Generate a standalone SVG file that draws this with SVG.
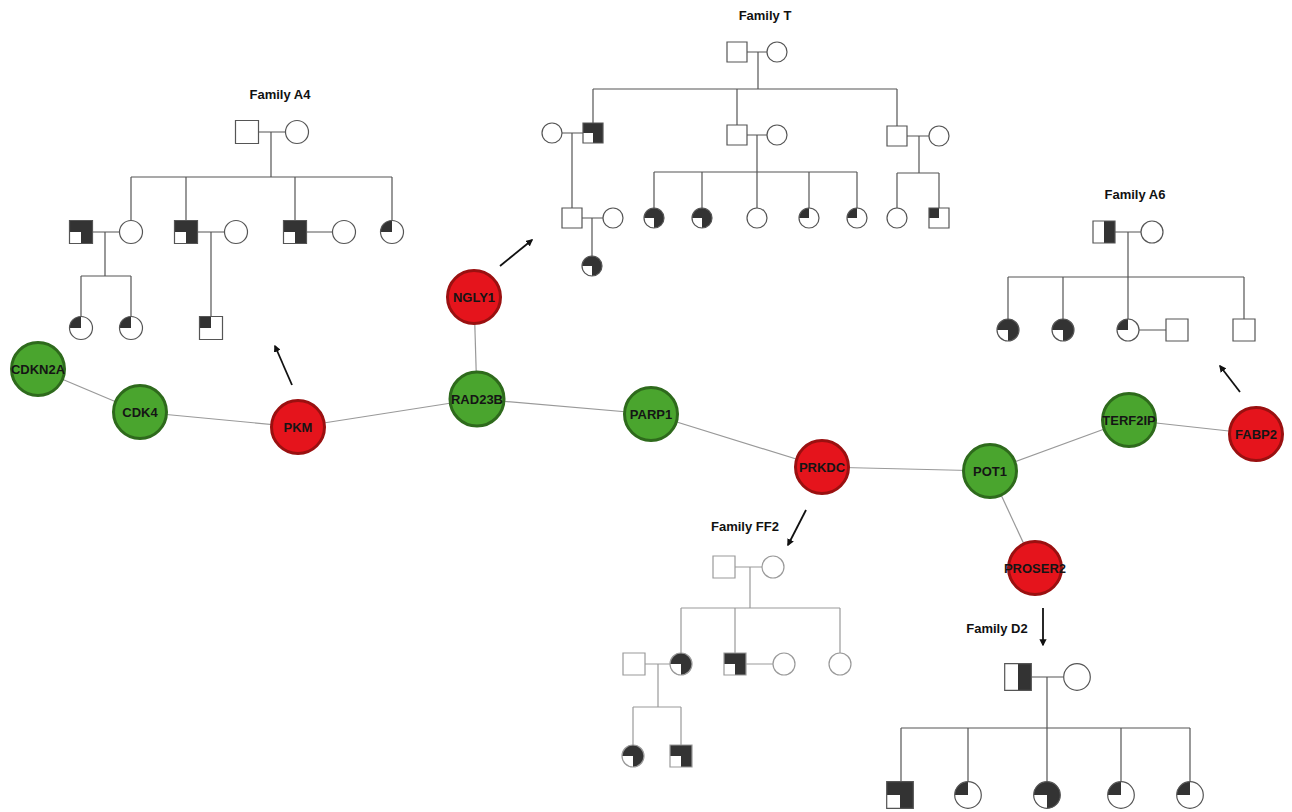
<svg xmlns="http://www.w3.org/2000/svg" xmlns:xlink="http://www.w3.org/1999/xlink" width="1292" height="812" viewBox="0 0 1292 812">
<style>
.o{fill:#fff;vector-effect:non-scaling-stroke}
.d{fill:#333;stroke:none}
.w{fill:#fff;stroke:none}
.pl{fill:none}
.fam{stroke:#555;stroke-width:1.2}
.famL{stroke:#9a9a9a;stroke-width:1.2}
.title{font-family:"Liberation Sans",Arial,sans-serif;font-weight:bold;font-size:13px;fill:#111;text-anchor:middle;stroke:none}
.edge{stroke:#999;stroke-width:1.2;fill:none}
.arr{stroke:#111;stroke-width:1.8;fill:none}
.ng circle{fill:#4aa52e;stroke:#2e6a1c;stroke-width:3}
.nr circle{fill:#e5141c;stroke:#9a1010;stroke-width:3}
.lbl{font-family:"Liberation Sans",Arial,sans-serif;font-weight:bold;font-size:13px;fill:#151515;text-anchor:middle;dominant-baseline:central}
</style>
<defs>
<marker id="ah" viewBox="0 0 10 10" refX="8" refY="5" markerWidth="4" markerHeight="4" orient="auto"><path d="M0 0L10 5L0 10Z" fill="#111"/></marker>
<g id="c0"><circle r="10" class="o"/></g>
<g id="c1"><circle r="10" class="w"/><path d="M0 0H-10A10 10 0 0 1 0 -10Z" class="d"/><circle r="10" class="o" style="fill:none"/></g>
<g id="c3"><circle r="10" class="d"/><path d="M0 0H-10A10 10 0 0 0 0 10Z" class="w"/><circle r="10" class="o" style="fill:none"/></g>
<g id="s0"><rect x="-10" y="-10" width="20" height="20" class="o"/></g>
<g id="s1"><rect x="-10" y="-10" width="20" height="20" class="w"/><rect x="-10" y="-10" width="10" height="10" class="d"/><rect x="-10" y="-10" width="20" height="20" class="o" style="fill:none"/></g>
<g id="s3"><rect x="-10" y="-10" width="20" height="20" class="d"/><rect x="-10" y="0" width="10" height="10" class="w"/><rect x="-10" y="-10" width="20" height="20" class="o" style="fill:none"/></g>
<g id="sh"><rect x="-10" y="-10" width="20" height="20" class="w"/><rect x="0" y="-10" width="10" height="20" class="d"/><rect x="-10" y="-10" width="20" height="20" class="o" style="fill:none"/></g>
</defs>
<rect width="1292" height="812" fill="#fff"/>

<g id="connectors">
<line class="edge" x1="38" y1="369" x2="140" y2="412"/>
<line class="edge" x1="140" y1="412" x2="298" y2="427"/>
<line class="edge" x1="298" y1="427" x2="477" y2="399"/>
<line class="edge" x1="474" y1="297" x2="477" y2="399"/>
<line class="edge" x1="477" y1="399" x2="651" y2="414"/>
<line class="edge" x1="651" y1="414" x2="822" y2="467"/>
<line class="edge" x1="822" y1="467" x2="990" y2="471"/>
<line class="edge" x1="990" y1="471" x2="1129" y2="420"/>
<line class="edge" x1="1129" y1="420" x2="1256" y2="434"/>
<line class="edge" x1="990" y1="471" x2="1035" y2="568"/>
<line class="arr" x1="292" y1="385" x2="275" y2="346" marker-end="url(#ah)"/>
<line class="arr" x1="500" y1="266" x2="532" y2="240" marker-end="url(#ah)"/>
<line class="arr" x1="1240" y1="392" x2="1220" y2="366" marker-end="url(#ah)"/>
<line class="arr" x1="806" y1="510" x2="788" y2="545" marker-end="url(#ah)"/>
<line class="arr" x1="1043" y1="608" x2="1043" y2="645" marker-end="url(#ah)"/>
</g>

<g id="node-CDKN2A" class="ng"><circle cx="38" cy="369" r="26.5"/><text class="lbl" x="38" y="369">CDKN2A</text></g>
<g id="node-CDK4" class="ng"><circle cx="140" cy="412" r="26.5"/><text class="lbl" x="140" y="412">CDK4</text></g>
<g id="node-PKM" class="nr"><circle cx="298" cy="427" r="26.5"/><text class="lbl" x="298" y="427">PKM</text></g>
<g id="node-NGLY1" class="nr"><circle cx="474" cy="297" r="26.5"/><text class="lbl" x="474" y="297">NGLY1</text></g>
<g id="node-RAD23B" class="ng"><circle cx="477" cy="399" r="27"/><text class="lbl" x="477" y="399">RAD23B</text></g>
<g id="node-PARP1" class="ng"><circle cx="651" cy="414" r="26.5"/><text class="lbl" x="651" y="414">PARP1</text></g>
<g id="node-PRKDC" class="nr"><circle cx="822" cy="467" r="26.5"/><text class="lbl" x="822" y="467">PRKDC</text></g>
<g id="node-POT1" class="ng"><circle cx="990" cy="471" r="26.5"/><text class="lbl" x="990" y="471">POT1</text></g>
<g id="node-TERF2IP" class="ng"><circle cx="1129" cy="420" r="26.5"/><text class="lbl" x="1129" y="420">TERF2IP</text></g>
<g id="node-FABP2" class="nr"><circle cx="1256" cy="434" r="26.5"/><text class="lbl" x="1256" y="434">FABP2</text></g>
<g id="node-PROSER2" class="nr"><circle cx="1035" cy="568" r="26.5"/><text class="lbl" x="1035" y="568">PROSER2</text></g>

<g id="family-A4" class="fam">
<text class="title" x="280" y="99">Family A4</text>
<path class="pl" d="M258.5 132H285.5M271 132V177M131 177H392M131 177V220.5M186 177V220.5M295 177V220.5M392 177V220.5M92.5 232H119.5M105 232V276M81 276H131M81 276V316.5M131 276V316.5M197.5 232H224.5M211 232V316.5M306.5 232H332.5"/>
<use href="#s0" transform="translate(247 132) scale(1.15)"/>
<use href="#c0" transform="translate(297 132) scale(1.15)"/>
<use href="#s3" transform="translate(81 232) scale(1.15)"/>
<use href="#c0" transform="translate(131 232) scale(1.15)"/>
<use href="#s3" transform="translate(186 232) scale(1.15)"/>
<use href="#c0" transform="translate(236 232) scale(1.15)"/>
<use href="#s3" transform="translate(295 232) scale(1.15)"/>
<use href="#c0" transform="translate(344 232) scale(1.15)"/>
<use href="#c1" transform="translate(392 232) scale(1.15)"/>
<use href="#c1" transform="translate(81 328) scale(1.15)"/>
<use href="#c1" transform="translate(131 328) scale(1.15)"/>
<use href="#s1" transform="translate(211 328) scale(1.15)"/>
</g>

<g id="family-T" class="fam">
<text class="title" x="765" y="20">Family T</text>
<path class="pl" d="M747 52H767M758 52V89M593 89H897M593 89V123M737 89V125M897 89V126M562 133H583M572 133V208M582 218H603M592 218V256M747 135H767M757 135V208M654 172H857M654 172V208M702 172V208M809 172V208M857 172V208M907 136H929M919 136V173M897 173H939M897 173V208M939 173V208"/>
<use href="#s0" transform="translate(737 52)"/>
<use href="#c0" transform="translate(777 52)"/>
<use href="#s3" transform="translate(593 133)"/>
<use href="#c0" transform="translate(552 133)"/>
<use href="#s0" transform="translate(572 218)"/>
<use href="#c0" transform="translate(613 218)"/>
<use href="#c3" transform="translate(592 266)"/>
<use href="#s0" transform="translate(737 135)"/>
<use href="#c0" transform="translate(777 135)"/>
<use href="#c3" transform="translate(654 218)"/>
<use href="#c3" transform="translate(702 218)"/>
<use href="#c0" transform="translate(757 218)"/>
<use href="#c1" transform="translate(809 218)"/>
<use href="#c1" transform="translate(857 218)"/>
<use href="#s0" transform="translate(897 136)"/>
<use href="#c0" transform="translate(939 136)"/>
<use href="#c0" transform="translate(897 218)"/>
<use href="#s1" transform="translate(939 218)"/>
</g>

<g id="family-A6" class="fam">
<text class="title" x="1135" y="199">Family A6</text>
<path class="pl" d="M1115 232H1141M1128 232V319M1008 277H1244M1008 277V319M1063 277V319M1244 277V319M1139 330H1166"/>
<use href="#sh" transform="translate(1104 232) scale(1.1)"/>
<use href="#c0" transform="translate(1152 232) scale(1.1)"/>
<use href="#c3" transform="translate(1008 330) scale(1.1)"/>
<use href="#c3" transform="translate(1063 330) scale(1.1)"/>
<use href="#c1" transform="translate(1128 330) scale(1.1)"/>
<use href="#s0" transform="translate(1177 330) scale(1.1)"/>
<use href="#s0" transform="translate(1244 330) scale(1.1)"/>
</g>

<g id="family-FF2" class="famL">
<text class="title" x="745" y="531">Family FF2</text>
<path class="pl" d="M735 567H762M750 567V608M681 608H840M681 608V653M735 608V653M840 608V653M645 664H670M658 664V707M633 707H681M633 707V745M681 707V745M746 664H773"/>
<use href="#s0" transform="translate(724 567) scale(1.1)"/>
<use href="#c0" transform="translate(773 567) scale(1.1)"/>
<use href="#s0" transform="translate(634 664) scale(1.1)"/>
<use href="#c3" transform="translate(681 664) scale(1.1)"/>
<use href="#s3" transform="translate(735 664) scale(1.1)"/>
<use href="#c0" transform="translate(784 664) scale(1.1)"/>
<use href="#c0" transform="translate(840 664) scale(1.1)"/>
<use href="#c3" transform="translate(633 756) scale(1.1)"/>
<use href="#s3" transform="translate(681 756) scale(1.1)"/>
</g>

<g id="family-D2" class="fam">
<text class="title" x="997" y="633">Family D2</text>
<path class="pl" d="M1031.3 677H1063.7M1047 677V781.7M901 728H1190M901 728V781.7M968 728V781.7M1121 728V781.7M1190 728V781.7"/>
<use href="#sh" transform="translate(1018 677) scale(1.33)"/>
<use href="#c0" transform="translate(1077 677) scale(1.33)"/>
<use href="#s3" transform="translate(900 795) scale(1.33)"/>
<use href="#c1" transform="translate(968 795) scale(1.33)"/>
<use href="#c3" transform="translate(1047 795) scale(1.33)"/>
<use href="#c1" transform="translate(1121 795) scale(1.33)"/>
<use href="#c1" transform="translate(1190 795) scale(1.33)"/>
</g>
</svg>
